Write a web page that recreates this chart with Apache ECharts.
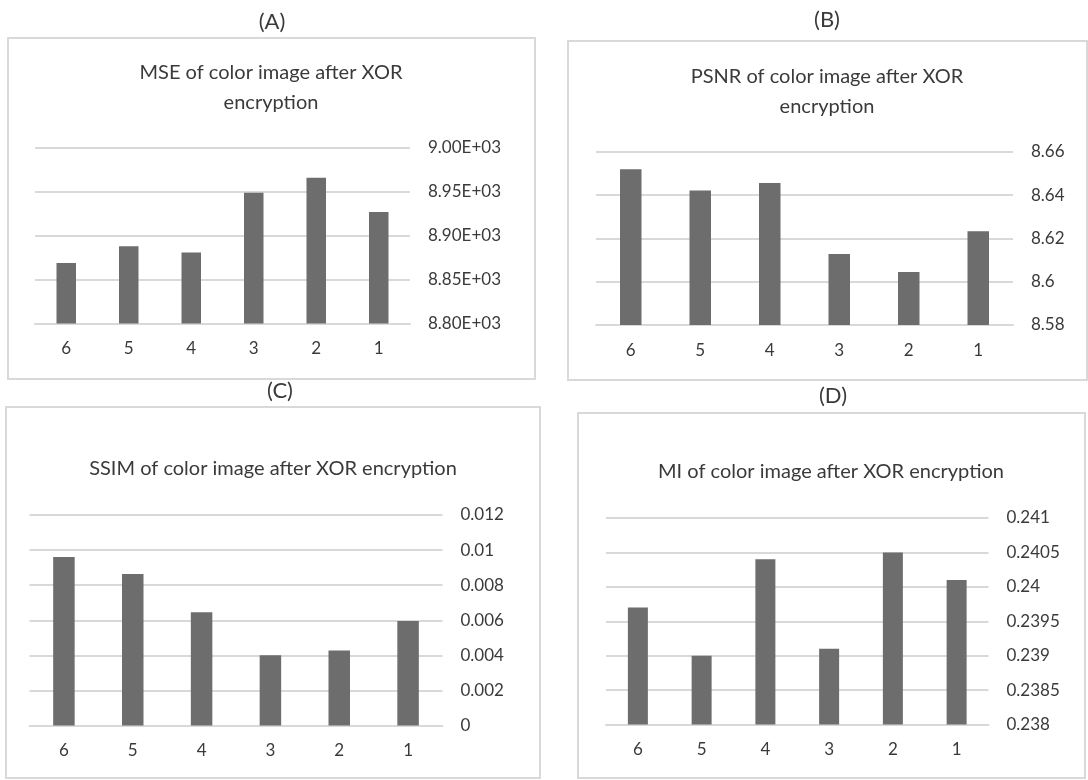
<!DOCTYPE html>
<html>
<head>
<meta charset="utf-8">
<script src="https://cdn.jsdelivr.net/npm/echarts@6/dist/echarts.min.js"></script>
<style>
  html, body { margin: 0; padding: 0; background: #fff; }
  #chart { width: 1088px; height: 780px; }
</style>
</head>
<body>
<div id="chart"></div>
<script>
// categories are the same for all four panels
const categories = ['6', '5', '4', '3', '2', '1'];

// values
const mseValues = [8869, 8888, 8881, 8949, 8966, 8927];
const psnrValues = [8.652, 8.6422, 8.6457, 8.6128, 8.6045, 8.6234];
const ssimValues = [0.0096, 0.00864, 0.00646, 0.0040, 0.00427, 0.00596];
const miValues = [0.2397, 0.2390, 0.2404, 0.2391, 0.2405, 0.2401];

const panelLabels = ['(A)', '(B)', '(C)', '(D)'];
const panelTitles = [
    'MSE of color image after XOR\nencryption',
    'PSNR of color image after XOR\nencryption',
    'SSIM of color image after XOR encryption',
    'MI of color image after XOR encryption'
];

const FONT = 'Lato, "Open Sans", sans-serif';
const TEXT = '#3a3a3a';
const GRID = '#d9d9d9';
const BAR = '#6d6d6d';

// panel boxes [x, y, w, h] and plot areas
const boxes = [
    [8, 38, 527, 341],
    [568, 41, 519, 339],
    [6, 407, 534, 371],
    [578, 413, 507, 365]
];
const grids = [
    { left: 35, top: 148, width: 375, height: 175.5 },
    { left: 596, top: 152, width: 417, height: 173 },
    { left: 29.5, top: 515, width: 413, height: 210.5 },
    { left: 606, top: 518, width: 382.5, height: 206.5 }
];

function sci(v) {
    const [m, e] = v.toExponential(2).toUpperCase().split('E');
    const sign = e[0];
    const digits = e.slice(1).padStart(2, '0');
    return `${m}E${sign}${digits}`;
}

const yAxes = [
    { min: 8800, max: 9000, interval: 50, formatter: sci },
    { min: 8.58, max: 8.66, interval: 0.02, formatter: v => String(+v.toFixed(2)) },
    { min: 0, max: 0.012, interval: 0.002, formatter: v => String(+v.toFixed(3)) },
    { min: 0.238, max: 0.241, interval: 0.0005, formatter: v => String(+v.toFixed(4)) }
];
const seriesData = [mseValues, psnrValues, ssimValues, miValues];
const barWidths = [19.5, 21.5, 21.5, 20];

const chart = echarts.init(document.getElementById('chart'));

const option = {
    animation: false,
    backgroundColor: '#fff',
    graphic: boxes.map(b => ({
        type: 'rect',
        shape: { x: b[0], y: b[1], width: b[2], height: b[3] },
        style: { fill: 'none', stroke: GRID, lineWidth: 2 },
        silent: true
    })),
    title: [
        { text: panelLabels[0], left: 272, top: 11 },
        { text: panelLabels[1], left: 827, top: 9 },
        { text: panelLabels[2], left: 280, top: 380 },
        { text: panelLabels[3], left: 833, top: 385 }
    ].map(t => ({
        text: t.text,
        left: t.left,
        top: t.top,
        textAlign: 'center',
        padding: 0,
        textStyle: { fontFamily: FONT, fontWeight: 'normal', fontSize: 22, color: TEXT }
    })).concat([
        { text: panelTitles[0], left: 271, top: 58 },
        { text: panelTitles[1], left: 827, top: 62 },
        { text: panelTitles[2], left: 273, top: 454 },
        { text: panelTitles[3], left: 831, top: 457 }
    ].map(t => ({
        text: t.text,
        left: t.left,
        top: t.top,
        textAlign: 'center',
        padding: 0,
        textStyle: { fontFamily: FONT, fontWeight: 'normal', fontSize: 20, lineHeight: 30, color: TEXT }
    }))),
    grid: grids,
    xAxis: grids.map((g, i) => ({
        type: 'category',
        gridIndex: i,
        data: categories,
        axisLine: { lineStyle: { color: GRID, width: 2 } },
        axisTick: { show: false },
        axisLabel: { color: TEXT, fontFamily: FONT, fontSize: 17, margin: 17 }
    })),
    yAxis: yAxes.map((a, i) => ({
        type: 'value',
        gridIndex: i,
        position: 'right',
        min: a.min,
        max: a.max,
        interval: a.interval,
        axisLine: { show: false },
        axisTick: { show: false },
        splitLine: { lineStyle: { color: GRID, width: 2 } },
        axisLabel: { color: TEXT, fontFamily: FONT, fontSize: 17, margin: 18, formatter: a.formatter }
    })),
    series: seriesData.map((d, i) => ({
        type: 'bar',
        xAxisIndex: i,
        yAxisIndex: i,
        data: d,
        barWidth: barWidths[i],
        itemStyle: { color: BAR }
    }))
};

chart.setOption(option);
</script>
</body>
</html>
